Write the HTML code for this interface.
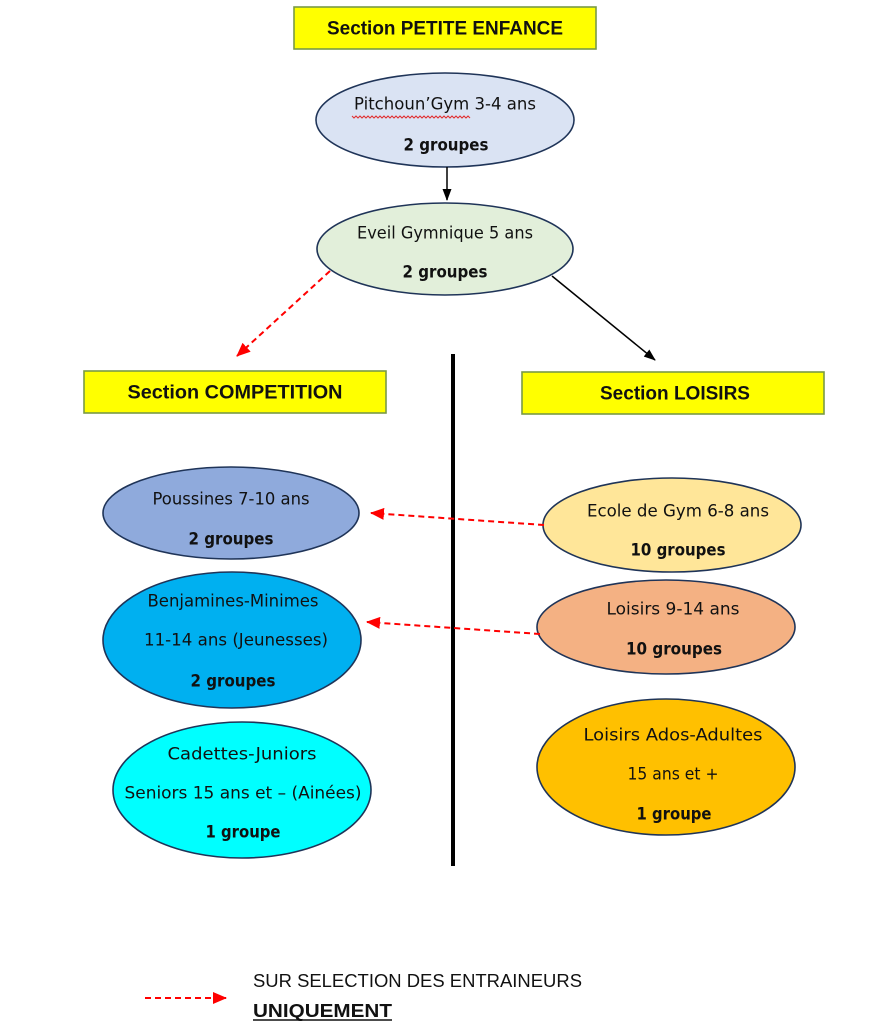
<!DOCTYPE html>
<html><head><meta charset="utf-8"><style>
html,body{margin:0;padding:0;background:#fff;}
svg{display:block;}
.c{font-family:"DejaVu Sans","Liberation Sans",sans-serif;font-size:16.5px;fill:#111;}
.b{font-weight:bold;}
.t{font-family:"Liberation Sans",sans-serif;font-weight:bold;font-size:19px;fill:#111;}
.l{font-family:"Liberation Sans",sans-serif;font-size:18px;fill:#111;}
.e{stroke:#1f3458;stroke-width:1.6;}
.box{fill:#ffff00;stroke:#7a9a45;stroke-width:1.6;}
</style></head><body>
<svg width="880" height="1024" viewBox="0 0 880 1024" xmlns="http://www.w3.org/2000/svg">
<defs>
<marker id="ab" markerWidth="12" markerHeight="10" refX="11" refY="4.5" orient="auto" markerUnits="userSpaceOnUse"><path d="M0,0 L12,4.5 L0,9 z" fill="#000"/></marker>
<marker id="ar" markerWidth="14" markerHeight="12" refX="13" refY="6" orient="auto" markerUnits="userSpaceOnUse"><path d="M0,0 L14,6 L0,12 z" fill="#ff0000"/></marker>
</defs>

<!-- Title -->
<rect class="box" x="294" y="7" width="302" height="42"/>
<text class="t" x="445" y="29" text-anchor="middle" dominant-baseline="central" textLength="236" lengthAdjust="spacingAndGlyphs">Section PETITE ENFANCE</text>

<!-- Pitchoun -->
<ellipse class="e" cx="445" cy="120" rx="129" ry="47" fill="#dae3f3"/>
<text class="c" x="445" y="104" text-anchor="middle" dominant-baseline="central" textLength="182" lengthAdjust="spacingAndGlyphs">Pitchoun’Gym 3-4 ans</text>
<polyline points="352,116 354,118 356,116 358,118 360,116 362,118 364,116 366,118 368,116 370,118 372,116 374,118 376,116 378,118 380,116 382,118 384,116 386,118 388,116 390,118 392,116 394,118 396,116 398,118 400,116 402,118 404,116 406,118 408,116 410,118 412,116 414,118 416,116 418,118 420,116 422,118 424,116 426,118 428,116 430,118 432,116 434,118 436,116 438,118 440,116 442,118 444,116 446,118 448,116 450,118 452,116 454,118 456,116 458,118 460,116 462,118 464,116 466,118 468,116 470,118" fill="none" stroke="#e03030" stroke-width="1.1"/>
<text class="c b" x="446" y="145" text-anchor="middle" dominant-baseline="central" textLength="85" lengthAdjust="spacingAndGlyphs">2 groupes</text>

<line x1="447" y1="167" x2="447" y2="200" stroke="#000" stroke-width="1.5" marker-end="url(#ab)"/>

<!-- Eveil -->
<ellipse class="e" cx="445" cy="249" rx="128" ry="46" fill="#e2efda"/>
<text class="c" x="445" y="233" text-anchor="middle" dominant-baseline="central" textLength="176" lengthAdjust="spacingAndGlyphs">Eveil Gymnique 5 ans</text>
<text class="c b" x="445" y="272" text-anchor="middle" dominant-baseline="central" textLength="85" lengthAdjust="spacingAndGlyphs">2 groupes</text>

<line x1="330" y1="271" x2="237" y2="356" stroke="#ff0000" stroke-width="2" stroke-dasharray="6,4" marker-end="url(#ar)"/>
<line x1="552" y1="276" x2="655" y2="360" stroke="#000" stroke-width="1.5" marker-end="url(#ab)"/>

<!-- vertical divider -->
<line x1="453" y1="354" x2="453" y2="866" stroke="#000" stroke-width="4"/>

<!-- Section boxes -->
<rect class="box" x="84" y="371" width="302" height="42"/>
<text class="t" x="235" y="393" text-anchor="middle" dominant-baseline="central" textLength="215" lengthAdjust="spacingAndGlyphs">Section COMPETITION</text>
<rect class="box" x="522" y="372" width="302" height="42"/>
<text class="t" x="675" y="394" text-anchor="middle" dominant-baseline="central" textLength="150" lengthAdjust="spacingAndGlyphs">Section LOISIRS</text>

<!-- Competition ellipses -->
<ellipse class="e" cx="231" cy="513" rx="128" ry="46" fill="#8faadc"/>
<text class="c" x="231" y="499" text-anchor="middle" dominant-baseline="central" textLength="157" lengthAdjust="spacingAndGlyphs">Poussines 7-10 ans</text>
<text class="c b" x="231" y="539" text-anchor="middle" dominant-baseline="central" textLength="85" lengthAdjust="spacingAndGlyphs">2 groupes</text>

<ellipse class="e" cx="232" cy="640" rx="129" ry="68" fill="#00b0f0"/>
<text class="c" x="233" y="601" text-anchor="middle" dominant-baseline="central" textLength="171" lengthAdjust="spacingAndGlyphs">Benjamines-Minimes</text>
<text class="c" x="236" y="640" text-anchor="middle" dominant-baseline="central" textLength="184" lengthAdjust="spacingAndGlyphs">11-14 ans (Jeunesses)</text>
<text class="c b" x="233" y="681" text-anchor="middle" dominant-baseline="central" textLength="85" lengthAdjust="spacingAndGlyphs">2 groupes</text>

<ellipse class="e" cx="242" cy="790" rx="129" ry="68" fill="#00ffff"/>
<text class="c" x="242" y="754" text-anchor="middle" dominant-baseline="central" textLength="149" lengthAdjust="spacingAndGlyphs">Cadettes-Juniors</text>
<text class="c" x="243" y="793" text-anchor="middle" dominant-baseline="central" textLength="237" lengthAdjust="spacingAndGlyphs">Seniors 15 ans et – (Ainées)</text>
<text class="c b" x="243" y="832" text-anchor="middle" dominant-baseline="central" textLength="75" lengthAdjust="spacingAndGlyphs">1 groupe</text>

<!-- Loisirs ellipses -->
<ellipse class="e" cx="672" cy="525" rx="129" ry="47" fill="#ffe699"/>
<text class="c" x="678" y="511" text-anchor="middle" dominant-baseline="central" textLength="182" lengthAdjust="spacingAndGlyphs">Ecole de Gym 6-8 ans</text>
<text class="c b" x="678" y="550" text-anchor="middle" dominant-baseline="central" textLength="95" lengthAdjust="spacingAndGlyphs">10 groupes</text>

<ellipse class="e" cx="666" cy="627" rx="129" ry="47" fill="#f4b183"/>
<text class="c" x="673" y="609" text-anchor="middle" dominant-baseline="central" textLength="133" lengthAdjust="spacingAndGlyphs">Loisirs 9-14 ans</text>
<text class="c b" x="674" y="649" text-anchor="middle" dominant-baseline="central" textLength="96" lengthAdjust="spacingAndGlyphs">10 groupes</text>

<ellipse class="e" cx="666" cy="767" rx="129" ry="68" fill="#ffc000"/>
<text class="c" x="673" y="735" text-anchor="middle" dominant-baseline="central" textLength="179" lengthAdjust="spacingAndGlyphs">Loisirs Ados-Adultes</text>
<text class="c" x="673" y="774" text-anchor="middle" dominant-baseline="central" textLength="91" lengthAdjust="spacingAndGlyphs">15 ans et +</text>
<text class="c b" x="674" y="814" text-anchor="middle" dominant-baseline="central" textLength="75" lengthAdjust="spacingAndGlyphs">1 groupe</text>

<!-- red dashed arrows -->
<line x1="544" y1="525" x2="371" y2="513" stroke="#ff0000" stroke-width="2" stroke-dasharray="6,4" marker-end="url(#ar)"/>
<line x1="540" y1="634" x2="367" y2="622" stroke="#ff0000" stroke-width="2" stroke-dasharray="6,4" marker-end="url(#ar)"/>

<!-- legend -->
<line x1="145" y1="998" x2="226" y2="998" stroke="#ff0000" stroke-width="2" stroke-dasharray="6,4" marker-end="url(#ar)"/>
<text class="l" x="253" y="987" textLength="329" lengthAdjust="spacingAndGlyphs">SUR SELECTION DES ENTRAINEURS</text>
<text class="l" x="253" y="1017" font-weight="bold" textLength="139" lengthAdjust="spacingAndGlyphs">UNIQUEMENT</text>
<line x1="253" y1="1020" x2="392" y2="1020" stroke="#111" stroke-width="1.6"/>
</svg>
</body></html>
